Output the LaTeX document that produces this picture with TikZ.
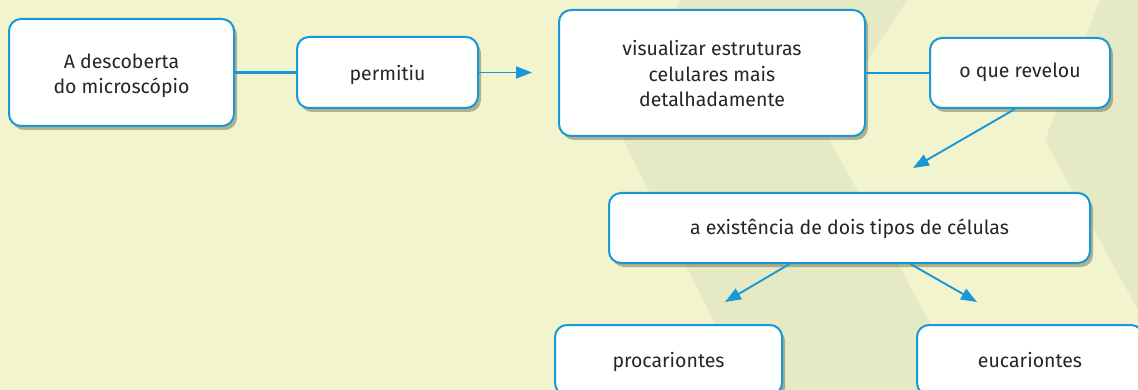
\documentclass[tikz,border=0pt]{standalone}
\usepackage{fontspec}
\setmainfont{Fira Sans}
\usetikzlibrary{arrows.meta,shadows}
\definecolor{bgpale}{RGB}{241,244,205}
\definecolor{bgdark}{RGB}{229,234,196}
\definecolor{mapblue}{RGB}{24,152,214}
\definecolor{inkgray}{RGB}{38,38,38}

\begin{document}
\begin{tikzpicture}[x=1pt, y=-1pt]
  \tikzstyle{box}=[draw=mapblue, line width=2pt, fill=white, rounded corners=12pt, inner sep=0pt, align=center, text=inkgray, font=\fontsize{19.5}{25.5}\selectfont, text height=23pt, text depth=9pt, drop shadow={shadow xshift=3pt, shadow yshift=-4pt, fill=black!55!olive, opacity=.4}]
  \tikzstyle{link}=[draw=mapblue, line width=2.4pt]
  \tikzstyle{edge}=[link, line width=1.9pt, -{Triangle[length=16pt, width=12pt]}]

  % background
  \clip (0,0) rectangle (1138,390);
  \fill[bgpale] (0,0) rectangle (1138,390);
  \fill[bgdark] (680,0) -- (907,0) -- (823,128) -- (967,390) -- (748,390) -- (621,135) -- cycle;
  \fill[bgdark] (1100,0) -- (1138,0) -- (1138,310) -- (1045,140) -- cycle;

  \node[box, minimum width=225pt, minimum height=107pt, text height=48pt, text depth=5pt] (desc) at (121.5, 72.5) {A descoberta\\do microscópio};
  \node[box, minimum width=181pt, minimum height=71pt, text depth=6pt] (permitiu) at (387.5, 72.5) {permitiu};
  \node[box, minimum width=306pt, minimum height=126pt, text height=73pt, text depth=5pt] (visual) at (712, 73) {visualizar estruturas\\celulares mais\\detalhadamente};
  \node[box, minimum width=180pt, minimum height=70pt, text depth=14pt] (revelou) at (1020, 73) {o que revelou};
  \node[box, minimum width=481pt, minimum height=70pt] (exist) at (849.5, 228) {a existência de dois tipos de células};
  \node[box, minimum width=227pt, minimum height=70pt] (proc)  at (668.5, 360) {procariontes};
  \node[box, minimum width=226pt, minimum height=70pt] (euc)   at (1030,  360) {eucariontes};

  \coordinate (t1) at (532, 72.5);
  \coordinate (t2) at (913, 168);
  \coordinate (t3) at (725, 302);
  \coordinate (t4) at (977, 302);

  \path[link] (desc) -- (permitiu);
  \path[edge] (permitiu) -- (t1);
  \path[link] (visual) -- (revelou);
  \path[edge] ([xshift=-5pt]revelou.south) -- (t2);
  \path[edge] ([xshift=-60pt]exist.south) -- (t3);
  \path[edge] ([xshift=61pt]exist.south) -- (t4);
\end{tikzpicture}
\end{document}
